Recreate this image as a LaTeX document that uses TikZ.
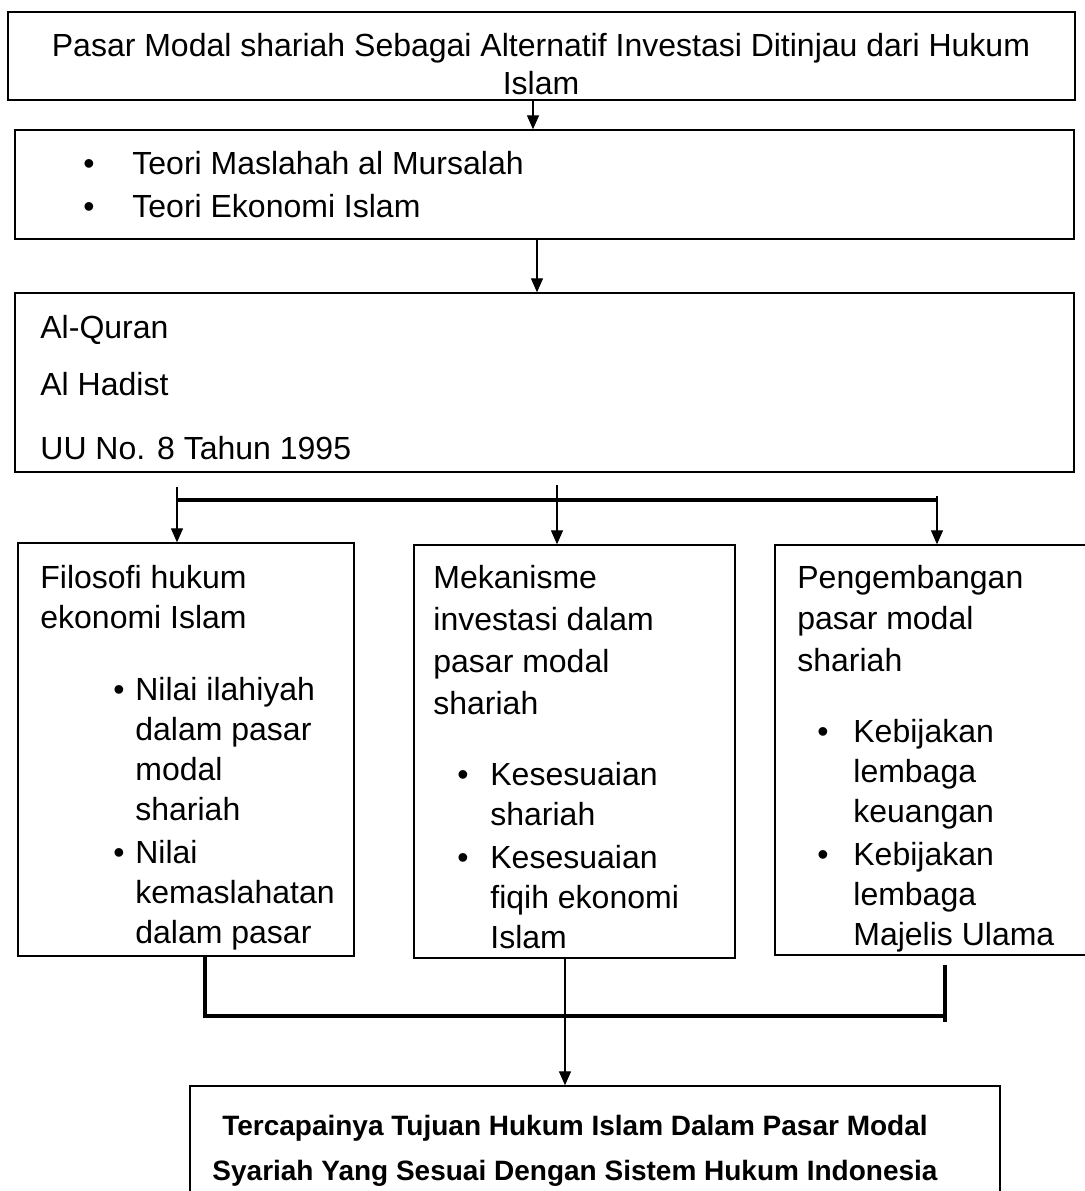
\documentclass[tikz,border=0pt]{standalone}
\usepackage{fontspec}
\setmainfont{Liberation Sans}
\usetikzlibrary{arrows.meta,fit}
\tikzset{
  box/.style={draw,line width=0.75pt,inner sep=0pt},
  txt/.style={anchor=north west,inner sep=0pt,align=left,font=\fontsize{16}{20}\selectfont},
  arr/.style={line width=0.7pt,-{Triangle[length=7pt,width=6pt]}},
  bar/.style={line width=2pt},
  lnk/.style={line width=0.7pt}
}
\newcommand{\blt}[1]{\makebox[#1][l]{\textbullet}}
\begin{document}
\begin{tikzpicture}[x=0.5pt,y=-0.5pt]
\useasboundingbox (0,0) rectangle (1084,1191);
%kotak
\node[box,fit={(8,12) (1075,100)}] (judul) {};
\node[box,fit={(15,130) (1074,239)}] (teori) {};
\node[box,fit={(15,293) (1074,472)}] (dasar) {};
\node[box,fit={(18,543) (354,956)}] (filosofi) {};
\node[box,fit={(414,545) (735,958)}] (mekanisme) {};
\node[box,fit={(775,545) (1100,955)}] (pengembangan) {};
\node[box,fit={(190,1086) (1000,1210)}] (tujuan) {};
%teks
\node[txt,anchor=north,align=center] (judultxt) at (541,28) {\strut Pasar Modal shariah Sebagai Alternatif Investasi Ditinjau dari Hukum\\[-1pt] Islam};
\node[txt] (teoritxt) at (83,146) {\strut\blt{24.5pt}Teori Maslahah al Mursalah\\[1.5pt] \blt{24.5pt}Teori Ekonomi Islam};
\node[txt] (dasartxt) at (40,310) {\strut Al-Quran\\[8.5pt] Al Hadist\\[12pt] UU No. 8 Tahun 1995};
\node[txt] (filosofitxt) at (40,560) {\strut Filosofi hukum\\ ekonomi Islam};
\node[txt] (filosofilist) at (113,672) {\strut\blt{11pt}Nilai ilahiyah\\ \hspace*{11pt}dalam pasar\\ \hspace*{11pt}modal\\ \hspace*{11pt}shariah\\[1.5pt] \blt{11pt}Nilai\\ \hspace*{11pt}kemaslahatan\\ \hspace*{11pt}dalam pasar};
\node[txt] (mekanismetxt) at (433,560) {\strut Mekanisme\\[1pt] investasi dalam\\[1pt] pasar modal\\[1pt] shariah};
\node[txt] (mekanismelist) at (457,757) {\strut\blt{16.5pt}Kesesuaian\\ \hspace*{16.5pt}shariah\\[1.5pt] \blt{16.5pt}Kesesuaian\\ \hspace*{16.5pt}fiqih ekonomi\\ \hspace*{16.5pt}Islam};
\node[txt] (pengembangantxt) at (797,560) {\strut Pengembangan\\[0.5pt] pasar modal\\[1pt] shariah};
\node[txt] (pengembanganlist) at (817,714) {\strut\blt{18pt}Kebijakan\\ \hspace*{18pt}lembaga\\ \hspace*{18pt}keuangan\\[1.5pt] \blt{18pt}Kebijakan\\ \hspace*{18pt}lembaga\\ \hspace*{18pt}Majelis Ulama};
\node[txt,anchor=north,align=center,font=\fontsize{14}{20}\selectfont\bfseries] (tujuantxt) at (575,1107) {\strut Tercapainya Tujuan Hukum Islam Dalam Pasar Modal\\[2.5pt] Syariah Yang Sesuai Dengan Sistem Hukum Indonesia};
%panah atas
\draw[arr] (judul.south -| 533,0) -- (teori.north -| 533,0);
\draw[arr] (teori.south -| 537,0) -- (dasar.north -| 537,0);
%cabang
\coordinate (cl) at (177,500);
\coordinate (cm) at (557,500);
\coordinate (cr) at (937,500);
\coordinate (tl) at (177,487);
\coordinate (tm) at (557,485);
\coordinate (tr) at (937,496);
\draw[bar] (cl) -- (cr);
\draw[arr] (tl) -- (filosofi.north -| tl);
\draw[arr] (tm) -- (mekanisme.north -| tm);
\draw[arr] (tr) -- (pengembangan.north -| tr);
%gabung
\coordinate (bl) at (205,1016);
\coordinate (br) at (945,1016);
\coordinate (brt) at (945,965);
\coordinate (brb) at (945,1022);
\draw[bar] (filosofi.south -| bl) -- (bl) -- (br);
\draw[bar] (brt) -- (brb);
\draw[arr] (mekanisme.south -| 565,0) -- (tujuan.north -| 565,0);
\end{tikzpicture}
\end{document}
